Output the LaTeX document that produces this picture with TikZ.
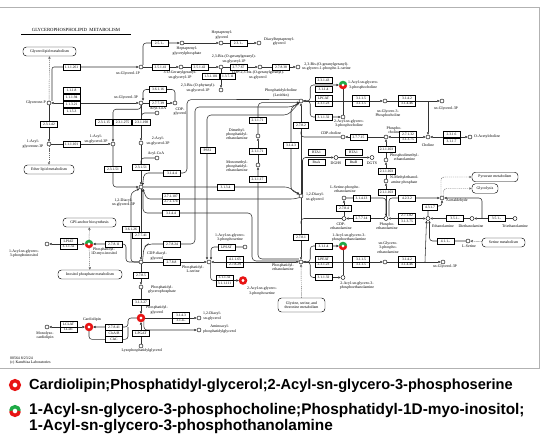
\documentclass[tikz,border=0pt]{standalone}
\usepackage{fontspec}
\setmainfont{Liberation Serif}
\newfontfamily\legfont{Liberation Sans}
\usetikzlibrary{arrows.meta,backgrounds,calc}
\definecolor{hlred}{RGB}{232,20,20}
\definecolor{hlgreen}{RGB}{30,170,70}
\newcommand\cpdf{\fontsize{3.9}{4.2}\selectfont}
\newcommand\enzf{\fontsize{3.6}{3.8}\selectfont}
\newcommand\titf{\fontsize{4.7}{5}\selectfont}
\newcommand\hlR[1]{\draw[hlred, line width=2.6pt] (#1.center) circle[radius=2.9pt];}
\newcommand\hlGR[1]{\draw[hlgreen, line width=2.6pt] ([xshift=2.9pt]#1.center) arc[start angle=0,end angle=180,radius=2.9pt];
 \draw[hlred, line width=2.6pt] ([xshift=-2.9pt]#1.center) arc[start angle=180,end angle=360,radius=2.9pt];}
\tikzset{
 cpd/.style={circle, draw, fill=white, inner sep=0pt, minimum size=4pt, line width=0.45pt},
 hlnode/.style={circle, inner sep=0pt, minimum size=8pt},
 enz/.style={draw, fill=white, inner sep=0pt, minimum width=17pt, minimum height=5.6pt, line width=0.45pt, font=\enzf},
 txt/.style={inner sep=0pt, align=center, font=\cpdf},
 pw/.style={draw, rounded corners=3.5pt, fill=white, inner sep=0.5pt, font=\cpdf, align=center, line width=0.45pt},
 ln/.style={line width=0.55pt, draw=black!80},
 arr/.style={ln, -{Triangle[length=2.5pt,width=2.3pt]}},
 darr/.style={ln, {Triangle[length=2.5pt,width=2.3pt]}-{Triangle[length=2.5pt,width=2.3pt]}},
 dln/.style={line width=0.45pt, draw=black!60, dash pattern=on 1.2pt off 0.9pt, -{Triangle[length=2.5pt,width=2.3pt]}},
 legt/.style={anchor=base west, inner sep=0pt},
}
\begin{document}
\begin{tikzpicture}[x=1pt,y=-1pt]
\useasboundingbox (0,0) rectangle (550,434);
% ---------------- compounds
\node[cpd] (glyp) at (49,103) {};
\node[cpd] (g1p) at (141,67) {};
\node[cpd] (g3p) at (141,103) {};
\node[cpd] (acylglyp) at (49,144) {};
\node[cpd] (acylg3p) at (113,144) {};
\node[cpd] (acyl2g3p) at (141,143) {};
\node[cpd] (acylcoaA) at (157,113) {};
\node[cpd] (acylcoaB) at (157,158) {};
\node[cpd] (cdpgly) at (175,103) {};
\node[cpd] (pa) at (141,187) {};
\node[cpd] (cdpdag) at (141,262) {};
\node[cpd] (pgp) at (141,287) {};
\node[hlnode] (pg) at (141,318) {};
\node[cpd] (lpg) at (141,346) {};
\node[hlnode] (pi) at (89,244) {};
\node[cpd] (lpi) at (47,244) {};
\node[hlnode] (cl) at (89,327) {};
\node[cpd] (mlcl) at (47,327) {};
\node[cpd] (ps) at (209,262) {};
\node[cpd] (lps) at (245,247) {};
\node[hlnode] (aps) at (243,280.5) {};
\node[cpd] (dagB) at (199,318) {};
\node[cpd] (aapg) at (199,330) {};
\node[cpd] (hpgp) at (182,43) {};
\node[cpd] (hpg) at (221,43) {};
\node[cpd] (dhpg) at (259,43) {};
\node[cpd] (ggg1p) at (181,67) {};
\node[cpd] (bggg1p) at (221,67) {};
\node[cpd] (bphy) at (221,90) {};
\node[cpd] (cdpbgg) at (260,67) {};
\node[cpd] (bggser) at (298,67) {};
\node[cpd] (pc) at (301,101) {};
\node[hlnode] (lpc) at (343,85) {};
\node[cpd] (apc) at (343,117) {};
\node[cpd] (gpc) at (385,101) {};
\node[cpd] (g3pB) at (442,101) {};
\coordinate (jc) at (428,101);
\node[cpd] (cdpcho) at (343,137) {};
\node[cpd] (pcho) at (386,137) {};
\node[cpd] (cho) at (428,137) {};
\node[cpd] (acho) at (470,137) {};
\node[cpd] (dmpe) at (258,136) {};
\node[cpd] (mmpe) at (258,165) {};
\node[cpd] (dag) at (301,196) {};
\node[cpd] (dghs) at (336,157.5) {};
\node[cpd] (dgts) at (372,157.5) {};
\node[cpd] (pdme) at (386,160) {};
\node[cpd] (pmme) at (386,181) {};
\node[cpd] (lsepe) at (344,198) {};
\node[cpd] (cdpeth) at (344,218.5) {};
\node[cpd] (peth) at (386,218.5) {};
\node[cpd] (acald) at (442,198) {};
\node[cpd] (etn) at (428,218.5) {};
\node[cpd] (deta) at (472,218.5) {};
\node[cpd] (teta) at (515,218.5) {};
\coordinate (jt) at (482,218.5);
\node[cpd] (lser) at (468,241) {};
\node[cpd] (pe) at (301,262) {};
\node[hlnode] (lpe) at (343,246) {};
\node[cpd] (ape) at (343,277.5) {};
\node[cpd] (gpe) at (385,262) {};
\node[cpd] (g3pC) at (443,262) {};
\coordinate (je) at (425,262);
\hlR{pg}\hlR{cl}\hlR{aps}\hlGR{pi}\hlGR{lpc}\hlGR{lpe}
% ---------------- pathway maps and title
\node[pw, minimum width=53pt, minimum height=9pt] (glm) at (49.5,51.5) {Glycerolipid metabolism};
\node[pw, minimum width=50pt, minimum height=9pt] (elm) at (49,169.5) {Ether lipid metabolism};
\node[pw, minimum width=53pt, minimum height=9pt] (gpi) at (89.5,222.5) {GPI-anchor biosynthesis};
\node[pw, minimum width=64pt, minimum height=9pt] (ipm) at (90,274.5) {Inositol phosphate metabolism};
\node[pw, minimum width=47pt, minimum height=14pt] (gst) at (301.5,305) {Glycine, serine, and\\threonine metabolism};
\node[pw, minimum width=46pt, minimum height=9.5pt] (pyr) at (495,177) {Pyruvate metabolism};
\node[pw, minimum width=26pt, minimum height=9.5pt] (glyc) at (485,188.5) {Glycolysis};
\node[pw, minimum width=43pt, minimum height=9pt] (ser) at (503.5,242.5) {Serine metabolism};
\node[draw, double=white, double distance=0.7pt, line width=0.4pt, minimum width=109pt, minimum height=8.5pt, inner sep=0pt, font=\titf] (title) at (76,29.5) {GLYCEROPHOSPHOLIPID\ \ METABOLISM};
\node[anchor=north west, align=left, font=\cpdf, inner sep=0pt] (foot) at (10,356.5) {00564 8/23/24\\(c) Kanehisa Laboratories};
% ---------------- enzymes
\node[enz] (e111261) at (71.5,67) {1.1.1.261};
\node[enz] (e1118) at (71.5,90) {1.1.1.8};
\node[enz] (e11194) at (71.5,97) {1.1.1.94};
\node[enz] (e11321) at (71.5,104) {1.1.3.21};
\node[enz] (e1153) at (71.5,111) {1.1.5.3};
\node[enz] (e23142) at (49,124) {2.3.1.42};
\node[enz] (e111101) at (71.5,144) {1.1.1.101};
\node[enz] (e23115) at (104,122.5) {2.3.1.15};
\node[enz, minimum width=18pt] (e231275) at (122.5,122.5) {2.3.1.275};
\node[enz, minimum width=18pt] (e231198) at (141.5,122.5) {2.3.1.198};
\node[enz] (e23151) at (113,169.5) {2.3.1.51};
\node[enz] (e23152) at (141,167.5) {2.3.1.51};
\node[enz] (e25199) at (159.5,43) {2.5.1.-};
\node[enz] (e23199) at (238.5,43) {2.3.1.-};
\node[enz] (e25141) at (160.5,67) {2.5.1.41};
\node[enz] (e25142) at (199.5,67) {2.5.1.42};
\node[enz] (e131101) at (211,76.5) {1.3.1.101};
\node[enz, minimum width=15pt] (e13711) at (228,76.5) {1.3.7.11};
\node[enz] (e27767) at (238.5,67) {2.7.7.67};
\node[enz] (e27838) at (281,67) {2.7.8.38};
\node[enz] (e36116) at (158,89.5) {3.6.1.16};
\node[enz] (e27739) at (158,103) {2.7.7.39};
\node[enz] (e23143) at (323.5,80.5) {2.3.1.43};
\node[enz] (e3114a) at (323.5,89.5) {3.1.1.4};
\node[enz] (elpcat) at (323.5,98.2) {LPCAT};
\node[enz] (e23123a) at (323.5,103.8) {2.3.1.23};
\node[enz] (e31132a) at (323.5,117) {3.1.1.32};
\node[enz] (e3115a) at (361,98.2) {3.1.1.5};
\node[enz] (e3115b) at (361,103.8) {3.1.1.5};
\node[enz] (e3142a) at (407,98.2) {3.1.4.2};
\node[enz] (e31446a) at (407,103.8) {3.1.4.46};
\node[enz] (e27715) at (358.5,137) {2.7.7.15};
\node[enz, minimum width=15pt] (e2782) at (301,125.5) {2.7.8.2};
\node[enz, minimum width=15pt] (e3143) at (291,145) {3.1.4.3};
\node[enz] (ebta1a) at (316.5,152.5) {BTA1};
\node[enz] (ebtaa) at (316.5,162.5) {BtaA};
\node[enz] (ebta1b) at (353.5,152.5) {BTA1};
\node[enz] (ebtab) at (353.5,162.5) {BtaB};
\node[enz] (e211103a) at (386.5,149.5) {2.1.1.103};
\node[enz] (e211103b) at (386.5,171) {2.1.1.103};
\node[enz] (e211103c) at (386.5,192.5) {2.1.1.103};
\node[enz] (e27132) at (408,134.2) {2.7.1.32};
\node[enz] (e31375a) at (408,139.8) {3.1.3.75};
\node[enz] (e2316) at (451.5,134) {2.3.1.6};
\node[enz] (e3117) at (451.5,141) {3.1.1.7};
\node[enz] (e21171a) at (257.5,120.5) {2.1.1.71};
\node[enz] (e21171b) at (257.5,151) {2.1.1.71};
\node[enz] (e21117) at (257.5,179.5) {2.1.1.17};
\node[enz, minimum width=15pt] (epss) at (207.5,150.5) {PSS1};
\node[enz] (e3144a) at (172,173) {3.1.4.4};
\node[enz] (e3134) at (225.5,187) {3.1.3.4};
\node[enz] (e271107) at (171,196.2) {2.7.1.107};
\node[enz] (e271174) at (171,201.8) {2.7.1.174};
\node[enz] (e3144b) at (171,213) {3.1.4.4};
\node[enz] (e36126) at (131,229.5) {3.6.1.26};
\node[enz] (e27741) at (141,235.5) {2.7.7.41};
\node[enz] (e27811) at (114,244) {2.7.8.11};
\node[enz] (elpiat) at (68.5,241.2) {LPIAT};
\node[enz] (e31132pi) at (68.5,246.8) {3.1.1.32};
\node[enz] (elclat) at (68.5,324.2) {LCLAT};
\node[enz] (ecld) at (68.5,329.8) {CLD1};
\node[enz] (e27841) at (114,327) {2.7.8.41};
\node[enz] (eclsab) at (114,333.2) {ClsA/B};
\node[enz] (eclsc) at (114,339.4) {ClsC};
\node[enz, minimum width=15pt] (e2785) at (141,275.5) {2.7.8.5};
\node[enz] (e31327) at (141,302) {3.1.3.27};
\node[enz] (elpgat) at (141,333) {LPGAT};
\node[enz] (e3143pg) at (181,315.2) {3.1.4.3};
\node[enz] (e314pg) at (181,320.8) {3.1.4.-};
\node[enz] (e27824) at (172,244) {2.7.8.24};
\node[enz] (e2788) at (171.5,262) {2.7.8.8};
\node[enz] (elpsat) at (226.5,247) {LPSAT};
\node[enz] (e41165) at (235,259.2) {4.1.1.65};
\node[enz] (e27829) at (235,264.8) {2.7.8.29};
\node[enz] (e31132ps) at (224.5,277.7) {3.1.1.32};
\node[enz] (e311111) at (224.5,283.3) {3.1.1.111};
\node[enz] (e3114pe) at (323.5,246) {3.1.1.4};
\node[enz] (elpeat) at (323.5,259.2) {LPEAT};
\node[enz] (e23123b) at (323.5,264.8) {2.3.1.23};
\node[enz] (e31132pe) at (323.5,277.5) {3.1.1.32};
\node[enz] (e3115c) at (361,259.2) {3.1.1.5};
\node[enz] (e3115d) at (361,264.8) {3.1.1.5};
\node[enz] (e3142b) at (407,259.2) {3.1.4.2};
\node[enz] (e31446b) at (407,264.8) {3.1.4.46};
\node[enz, minimum width=15pt] (e2781) at (301,237.5) {2.7.8.1};
\node[enz] (e31413) at (361.5,198) {3.1.4.13};
\node[enz, minimum width=15pt] (e2784) at (344,208) {2.7.8.4};
\node[enz] (e27714) at (361.5,218.5) {2.7.7.14};
\node[enz] (e4232) at (407,198) {4.2.3.2};
\node[enz] (e27182) at (407,215.7) {2.7.1.82};
\node[enz] (e31375b) at (407,221.3) {3.1.3.75};
\node[enz, minimum width=15pt] (e4317) at (430,207.5) {4.3.1.7};
\node[enz] (e431a) at (455,218.5) {3.5.1.-};
\node[enz] (e431b) at (496.5,218.5) {3.5.1.-};
\node[enz] (e4111) at (445.5,241) {4.1.1.-};
% ---------------- compound labels
\node[txt, anchor=east] (Lglyp) at (46,103) {Glycerone-P};
\node[txt] (Lg1p) at (128,74) {sn-Glycerol-1P};
\node[txt] (Lg3p) at (126,97.5) {sn-Glycerol-3P};
\node[txt] (Lacylglyp) at (33,144) {1-Acyl-\\glycerone-3P};
\node[txt] (Lacylg3p) at (96,139) {1-Acyl-\\sn-glycerol-3P};
\node[txt] (Lacyl2g3p) at (158,141) {2-Acyl-\\sn-glycerol-3P};
\node[txt] (LacylcoaA) at (158,108.5) {Acyl-CoA};
\node[txt] (LacylcoaB) at (156,153.5) {Acyl-CoA};
\node[txt] (Lcdpgly) at (180,111.5) {CDP-\\glycerol};
\node[txt] (Lpa) at (123.5,202.5) {1,2-Diacyl-\\sn-glycerol-3P};
\node[txt] (Lcdpdag) at (157,256) {CDP-diacyl-\\glycerol};
\node[txt] (Lpgp) at (162,289.5) {Phosphatidyl-\\glycerophosphate};
\node[txt] (Lpg) at (157,310) {Phosphatidyl-\\glycerol};
\node[txt] (Llpg) at (142,351) {Lysophosphatidylglycerol};
\node[txt] (Lpi) at (104,251.5) {Phosphatidyl-\\1D-myo-inositol};
\node[txt] (Llpi) at (24,253.5) {1-Acyl-sn-glycero-\\3-phosphoinositol};
\node[txt] (Lcl) at (92,320) {Cardiolipin};
\node[txt] (Lmlcl) at (45,335.5) {Monolyso-\\cardiolipin};
\node[txt] (Lps) at (193,269) {Phosphatidyl-\\L-serine};
\node[txt] (Llps) at (230,237.5) {1-Acyl-sn-glycero-\\3-phosphoserine};
\node[txt] (Laps) at (262,291) {2-Acyl-sn-glycero-\\3-phosphoserine};
\node[txt, anchor=west] (LdagB) at (203,316) {1,2-Diacyl-\\sn-glycerol};
\node[txt, anchor=west] (Laapg) at (203,329) {Aminoacyl-\\phosphatidylglycerol};
\node[txt] (Lhpgp) at (187,51) {Heptaprenyl-\\glycerylphosphate};
\node[txt] (Lhpg) at (222,35) {Heptaprenyl-\\glycerol};
\node[txt, anchor=west] (Ldhpg) at (264,41.5) {Diacylheptaprenyl-\\glycerol};
\node[txt] (Lggg1p) at (180,75) {3-O-Geranylgeranyl-\\sn-glyceryl-1P};
\node[txt] (Lbggg1p) at (234,59) {2,3-Bis-(O-geranylgeranyl)-\\sn-glyceryl-1P};
\node[txt] (Lbphy) at (198,88) {2,3-Bis-(O-phytanyl)-\\sn-glycerol-1P};
\node[txt] (Lcdpbgg) at (258,75) {CDP-2,3-bis-(O-geranylgeranyl)-\\sn-glycerol};
\node[txt, anchor=west] (Lbggser) at (302,66.5) {2,3-Bis-(O-geranylgeranyl)-\\sn-glycero-1-phospho-L-serine};
\node[txt] (Lpc) at (281,93) {Phosphatidylcholine\\(Lecithin)};
\node[txt, anchor=west] (Llpc) at (348,85) {1-Acyl-sn-glycero-\\3-phosphocholine};
\node[txt] (Lapc) at (349,123.5) {2-Acyl-sn-glycero-\\3-phosphocholine};
\node[txt] (Lgpc) at (388,113.5) {sn-Glycero-3-\\Phosphocholine};
\node[txt] (Lg3pB) at (446,108.5) {sn-Glycerol-3P};
\node[txt] (Lcdpcho) at (331,133) {CDP-choline};
\node[txt] (Lpcho) at (394,130.5) {Phospho-\\choline};
\node[txt] (Lcho) at (428,145) {Choline};
\node[txt, anchor=west] (Lacho) at (474,137) {O-Acetylcholine};
\node[txt] (Ldmpe) at (237,134) {Dimethyl-\\phosphatidyl-\\ethanolamine};
\node[txt] (Lmmpe) at (237,166) {Monomethyl-\\phosphatidyl-\\ethanolamine};
\node[txt] (Ldag) at (315,197) {1,2-Diacyl-\\sn-glycerol};
\node[txt] (Ldghs) at (336,163) {DGHS};
\node[txt] (Ldgts) at (372,163) {DGTS};
\node[txt, anchor=west] (Lpdme) at (390,157.5) {Phosphodimethyl-\\ethanolamine};
\node[txt, anchor=west] (Lpmme) at (390,180) {N-Methylethanol-\\amine phosphate};
\node[txt] (Llsepe) at (345,189) {L-Serine-phospho-\\ethanolamine};
\node[txt] (Lcdpeth) at (341,226.5) {CDP-\\ethanolamine};
\node[txt] (Lpeth) at (387,226.5) {Phospho-\\ethanolamine};
\node[txt, anchor=west] (Lacald) at (446,200.5) {Acetaldehyde};
\node[txt] (Letn) at (443,226.5) {Ethanolamine};
\node[txt] (Ldeta) at (471,226.5) {Diethanolamine};
\node[txt] (Lteta) at (515,226.5) {Triethanolamine};
\node[txt] (Llser) at (469,246.5) {L-Serine};
\node[txt] (Lpe) at (283,267.5) {Phosphatidyl-\\ethanolamine};
\node[txt] (Llpe) at (349,237.5) {1-Acyl-sn-glycero-3-\\phosphoethanolamine};
\node[txt] (Lape) at (357,285.5) {2-Acyl-sn-glycero-3-\\phosphoethanolamine};
\node[txt] (Lgpe) at (388,247.5) {sn-Glycero-\\3-phospho-\\ethanolamine};
\node[txt] (Lg3pC) at (445,266.5) {sn-Glycerol-3P};
% ---------------- legend
\node[hlnode] (lg1) at (15,385) {};
\draw[hlred, line width=3.4pt] (lg1.center) circle[radius=4.3pt];
\node[hlnode] (lg2) at (15,411) {};
\draw[hlgreen, line width=3.4pt] ([xshift=4.3pt]lg2.center) arc[start angle=0,end angle=180,radius=4.3pt];
\draw[hlred, line width=3.4pt] ([xshift=-4.3pt]lg2.center) arc[start angle=180,end angle=360,radius=4.3pt];
\node[legt, font=\fontsize{14.6}{17}\legfont\bfseries] (lt1) at (29,389.5) {Cardiolipin;Phosphatidyl-glycerol;2-Acyl-sn-glycero-3-phosphoserine};
\node[legt, font=\fontsize{15.4}{17}\legfont\bfseries] (lt2) at (29,414.5) {1-Acyl-sn-glycero-3-phosphocholine;Phosphatidyl-1D-myo-inositol;};
\node[legt, font=\fontsize{15.4}{17}\legfont\bfseries] (lt3) at (29,430.5) {1-Acyl-sn-glycero-3-phosphothanolamine};
% ---------------- connectors
\begin{pgfonlayer}{background}
\fill[white] (0,0) rectangle (550,434);
\draw[black!30, line width=0.7pt] (0,7) -- (539,7) -- (539,368) -- (0,368);
% glycerone-P
\draw[dln] (glyp) -- (glm);
\draw[arr, rounded corners=2pt] ([xshift=3pt]glyp.north) |- (g1p);
\draw[darr] (glyp) -- (g3p);
\draw[arr] (glyp) -- (acylglyp);
\draw[dln] (acylglyp) -- (elm);
\draw[arr] (acylglyp) -- (acylg3p);
\draw[arr, rounded corners=3pt] (g3p.south) -- ++(0,4) -| (acylg3p);
\draw[arr] (g3p) -- (acyl2g3p);
\draw[ln, rounded corners=3pt] (acylcoaA.west) -| (e231198);
\draw[ln, rounded corners=3pt] (acylcoaB.west) -| (e23152);
\draw[arr, rounded corners=3pt] (acylg3p) |- (pa);
\draw[arr] (acyl2g3p) -- (pa);
\draw[arr] (g3p) -- (cdpgly);
\draw[arr, rounded corners=3pt] (cdpgly.north) |- (e36116) -| ([xshift=2pt]g3p.north);
% archaeal lipids
\draw[arr, rounded corners=3pt] ([xshift=2pt]g1p.north) |- (hpgp);
\draw[arr] (hpgp) -- (hpg);
\draw[arr] (hpg) -- (dhpg);
\draw[arr] (g1p) -- (ggg1p);
\draw[arr] (ggg1p) -- (bggg1p);
\draw[arr] (bggg1p) -- (bphy);
\draw[arr] (bggg1p) -- (cdpbgg);
\draw[arr] (cdpbgg) -- (bggser);
% phosphatidylcholine
\draw[arr, rounded corners=3pt] (pc.east) -- ++(7,0) |- (lpc);
\draw[arr, rounded corners=3pt] (pc.east) -- ++(7,0) |- (apc);
\draw[darr] (pc) -- (gpc);
\draw[ln] (lpc) -- (apc);
\draw[arr] (gpc) -- (g3pB);
\draw[arr] (jc) -- (cho);
\draw[arr] (pcho) -- (cdpcho);
\draw[ln, rounded corners=3pt] (cdpcho.west) -| ([yshift=-3pt]e2782.south);
\draw[arr] (dag) -- (pc);
\draw[arr, rounded corners=3pt] (pc.south west) -- (291,108) -- (291,190) -- (dag.north west);
\draw[arr, rounded corners=4pt] (pc.north west) -- (187,99.6) -- (187,173) -- (144,173) -- (pa.north east);
\draw[arr, rounded corners=4pt] (cdpdag.north east) -- (144,247) -- (148,244) -- (195,244) -- (195,107) -- (292,107) -- (pc.south west);
\draw[arr, rounded corners=4pt] (pc.south west) -- (288,115) -- (207,115) -- ([xshift=-2pt]ps.north);
\draw[arr, rounded corners=4pt] ([yshift=3pt]pe.west) -| (mmpe.south);
\draw[arr] (mmpe) -- (dmpe);
\draw[arr, rounded corners=4pt] (dmpe.north) |- (pc.south west);
\draw[arr, rounded corners=3pt] ([xshift=1.5pt]dag.north) |- (dghs);
\draw[arr] (dghs) -- (dgts);
% phosphatidate
\draw[arr, rounded corners=3pt] (pa.east) -- (288,187) -- (dag.north west);
\draw[arr, rounded corners=3pt] (dag.south west) -- (294,199) -- (147,199) -- (pa.south east);
\draw[arr, rounded corners=4pt] ([yshift=1pt]pe.west) -- (252,261) -- (252,213) -- (143,213) -- ([xshift=2pt]pa.south);
\draw[arr] (pa) -- (cdpdag);
\draw[arr, rounded corners=3pt] (cdpdag.west) -- (131,262) -- (131,193) -- (pa.south west);
\draw[arr, rounded corners=3pt] (cdpdag.west) -- (126,262) -- (126,244) -- (pi);
\draw[darr] (pi) -- (lpi);
\draw[dln] (pi) -- (gpi);
\draw[dln] (pi) -- (ipm);
\draw[arr] (cdpdag) -- (pgp);
\draw[arr] (pgp) -- (pg);
\draw[arr] (lpg) -- (pg);
\draw[arr] (pg) -- (dagB);
\draw[arr, rounded corners=3pt] (pg.south east) |- (aapg);
\draw[arr, rounded corners=3pt] (pg.west) -- (128,318) -- (128,327) -- (cl);
\draw[ln, rounded corners=3pt] (cl.south) |- (128,339.4) -- (128,327);
\draw[darr] (cl) -- (mlcl);
% serine / ethanolamine
\draw[arr] (cdpdag) -- (ps);
\draw[arr, rounded corners=3pt] (lps.west) -| ([xshift=2pt]ps.north);
\draw[arr, rounded corners=3pt] (ps.south east) |- (aps);
\draw[darr] (ps) -- (pe);
\draw[arr] (dag) -- (pe);
\draw[ln, rounded corners=3pt] (cdpeth.west) -| ($(dag)!0.42!(pe)$);
\draw[arr, rounded corners=3pt] (pe.east) -- ++(7,0) |- (lpe);
\draw[arr, rounded corners=3pt] (pe.east) -- ++(7,0) |- (ape);
\draw[darr] (pe) -- (gpe);
\draw[ln] (lpe) -- (ape);
\draw[arr] (gpe) -- (g3pC);
\draw[arr, rounded corners=3pt] (je) -- ([xshift=-1.5pt]etn.south);
\draw[dln] (gst) -- (pe);
\draw[arr] (peth) -- (cdpeth);
\draw[arr] (cdpeth) -- (lsepe);
\draw[arr, rounded corners=3pt] (lsepe.east) -| (peth.north);
\draw[arr] (peth) -- (pmme);
\draw[arr] (pmme) -- (pdme);
\draw[arr] (pdme) -- (pcho);
\draw[darr] (pcho) -- (cho);
\draw[darr] (cho) -- (acho);
\draw[darr] (peth) -- (etn);
\draw[arr, rounded corners=3pt] ([xshift=3pt]peth.north) |- (acald.west);
\draw[arr, rounded corners=3pt] (etn.north) -- (428,206) -- (442,206) -- (acald.south);
\draw[dln, rounded corners=3pt] ([xshift=-1pt]acald.north) |- (pyr.west);
\draw[dln, rounded corners=3pt] ([xshift=1.5pt]acald.north) |- (glyc.west);
\draw[arr] (deta) -- (etn);
\draw[arr] (teta) -- (deta);
\draw[arr, rounded corners=3pt] (jt) |- (acald.east);
\draw[arr, rounded corners=3pt] (lser.west) -| ([xshift=1.5pt]etn.south);
\draw[dln] (ser) -- (lser);
\end{pgfonlayer}
\end{tikzpicture}
\end{document}
